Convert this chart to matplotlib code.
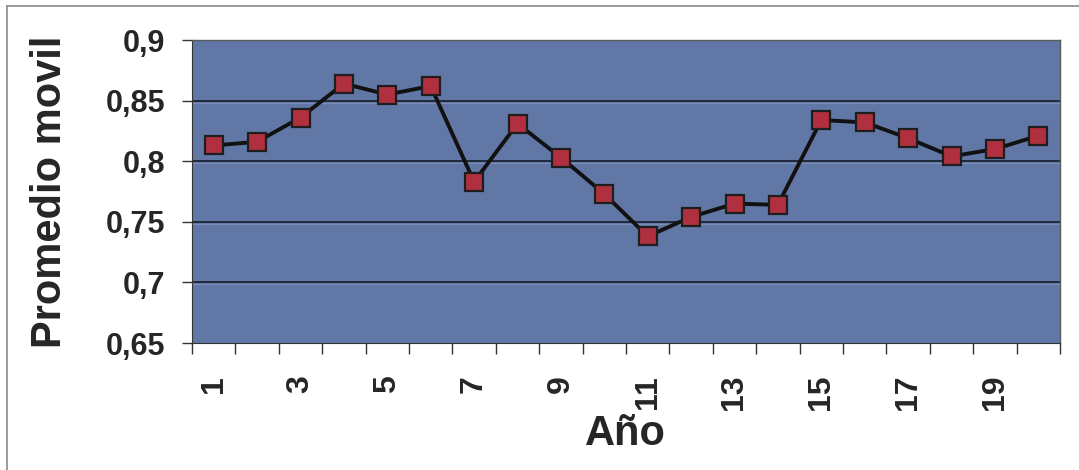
import matplotlib

matplotlib.use("Agg")
import matplotlib.pyplot as plt
from matplotlib.lines import Line2D
import numpy as np

years = list(range(1, 21))
promedio = [0.813, 0.816, 0.836, 0.864, 0.855, 0.862, 0.783, 0.831, 0.803, 0.773,
            0.738, 0.754, 0.765, 0.764, 0.834, 0.832, 0.819, 0.804, 0.810, 0.821]
label_years = [1, 3, 5, 7, 9, 11, 13, 15, 17, 19]
yticks = [0.65, 0.7, 0.75, 0.8, 0.85, 0.9]
ytick_labels = ["0,65", "0,7", "0,75", "0,8", "0,85", "0,9"]

BG = "#6177a6"
TXT = "#262626"

plt.rcParams["font.family"] = ["Liberation Sans", "DejaVu Sans"]

fig = plt.figure(figsize=(10.79, 4.70), dpi=100)
ax = fig.add_axes([192 / 1079, 1 - 343 / 470, 868 / 1079, 303 / 470])
ax.set_facecolor(BG)

ax.set_xlim(0.5, 20.5)
ax.set_ylim(0.65, 0.9)

# gridlines (dark line with a faint light line underneath, old-Excel look)
for v in yticks[1:-1]:
    ax.axhline(v, color="#1c2233", lw=1.3, zorder=1)
    ax.axhline(v - 0.0017, color="#8e9dc0", lw=0.8, alpha=0.6, zorder=1)

ax.plot(years, promedio, "-", color="#111111", lw=2.8, zorder=3)
ax.plot(years, promedio, "s", ms=12.5, mfc="#b0303f", mec="#1e1e1e", mew=1.6, zorder=4)

ax.set_yticks(yticks)
ax.set_yticklabels(ytick_labels)
ax.tick_params(axis="y", direction="out", length=7, width=1, color="#333333",
               labelsize=22, pad=12, labelcolor=TXT)
for t in ax.get_yticklabels():
    t.set_fontweight("bold")

ax.set_xticks(np.arange(0.5, 21, 1.0))
ax.set_xticklabels([])
ax.tick_params(axis="x", which="major", direction="out", length=8, width=1, color="#333333")
ax.set_xticks(label_years, minor=True)
ax.set_xticklabels([str(y) for y in label_years], minor=True, rotation=90,
                   fontsize=23, fontweight="bold", color=TXT)
ax.tick_params(axis="x", which="minor", length=0, pad=23)

for s in ("top", "right"):
    ax.spines[s].set_color("#5a5a5a")
    ax.spines[s].set_linewidth(1.0)
ax.spines["left"].set_color("#333333")
ax.spines["bottom"].set_color("#333333")

ax.set_ylabel("Promedio movil", fontsize=30, fontweight="bold", color=TXT)
ax.yaxis.set_label_coords(-0.140, 0.5)
ax.set_xlabel("Año", fontsize=30, fontweight="bold", color=TXT)
ax.xaxis.set_label_coords(0.499, -0.30)
ax.xaxis.label.set_va("center")

# chart-area frame edges visible in the scan
fig.add_artist(Line2D([7 / 1079, 1.0], [1 - 6 / 470, 1 - 6 / 470],
                      color="#8a8a8a", lw=1.2, transform=fig.transFigure))
fig.add_artist(Line2D([7 / 1079, 7 / 1079], [0.0, 1 - 6 / 470],
                      color="#8a8a8a", lw=1.2, transform=fig.transFigure))

fig.savefig("out.png", dpi=100)
